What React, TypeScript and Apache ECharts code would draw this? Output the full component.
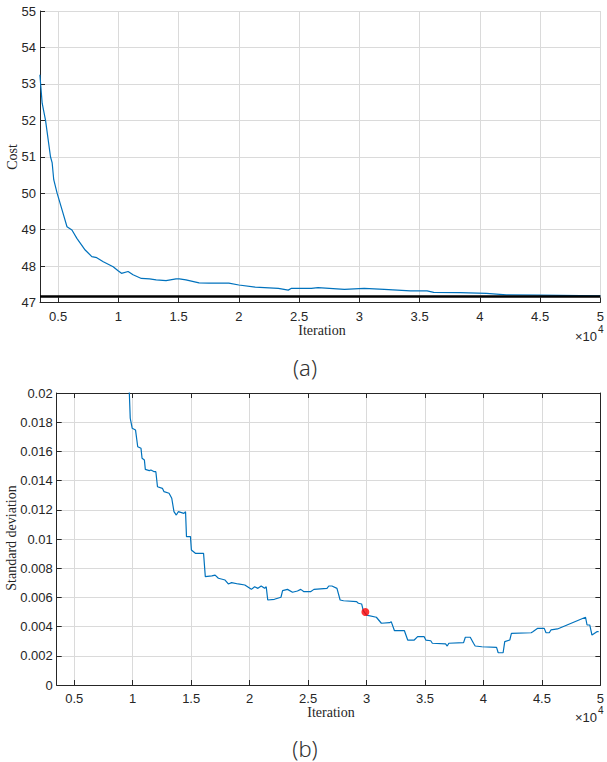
import { useEffect, useRef } from 'react';
import * as echarts from 'echarts';

// ---------- data ----------
const xTickValues = [5000, 10000, 15000, 20000, 25000, 30000, 35000, 40000, 45000, 50000];

const costIter = [3490, 3680, 3960, 4370, 4510, 4640, 4920, 5330, 5740, 6150, 6560, 7250, 7800, 8210, 8750, 9570, 9980, 10260, 10810, 11220, 11910, 12590, 13140, 13960, 14790, 15060, 15610, 16700, 17520, 19170, 20000, 21360, 23280, 24100, 24370, 26020, 26570, 28760, 30400, 32060, 34240, 35620, 36170, 38360, 40550, 42200, 44940, 50000];
const costVal = [53.25, 52.47, 52.0, 51.0, 50.83, 50.37, 50.0, 49.54, 49.08, 48.99, 48.76, 48.44, 48.26, 48.23, 48.12, 47.98, 47.87, 47.80, 47.85, 47.76, 47.66, 47.65, 47.62, 47.60, 47.65, 47.65, 47.62, 47.54, 47.53, 47.53, 47.48, 47.42, 47.39, 47.34, 47.39, 47.39, 47.41, 47.36, 47.39, 47.36, 47.32, 47.32, 47.28, 47.27, 47.25, 47.21, 47.20, 47.18];
const costTarget = 47.17;

const stdIter = [9600, 9790, 9960, 10240, 10430, 10710, 10800, 11000, 11080, 11420, 11560, 11840, 11980, 12120, 12540, 12680, 13110, 13340, 13530, 13730, 13900, 14380, 14520, 14600, 14940, 15020, 15360, 16060, 16210, 16770, 17050, 17330, 17900, 18180, 18460, 19020, 19590, 20150, 20430, 20710, 20990, 21280, 21420, 21550, 22120, 22680, 22820, 23240, 23670, 24090, 24370, 24650, 25210, 25500, 26620, 26770, 27040, 27470, 27740, 28030, 29150, 29300, 29580, 29720, 30000, 30840, 31270, 31970, 32110, 32390, 33240, 33520, 34080, 34370, 34930, 35070, 35490, 35630, 36760, 36900, 37040, 38300, 38450, 38870, 39150, 39290, 39860, 41120, 41260, 41680, 41820, 42250, 42390, 44080, 44220, 44640, 45200, 45350, 45630, 45770, 46330, 48730, 48860, 49090, 49280, 49700, 49850];
const stdVal = [0.0225, 0.01827, 0.01758, 0.01747, 0.01632, 0.01621, 0.01553, 0.01541, 0.01477, 0.01468, 0.01473, 0.01461, 0.01461, 0.01358, 0.01347, 0.01324, 0.01313, 0.01279, 0.01187, 0.01164, 0.01187, 0.01176, 0.01187, 0.01016, 0.01016, 0.00925, 0.00902, 0.00902, 0.00742, 0.00747, 0.00753, 0.00731, 0.00719, 0.00692, 0.00701, 0.00692, 0.00685, 0.00655, 0.00673, 0.00662, 0.00678, 0.00662, 0.00673, 0.00582, 0.00587, 0.00601, 0.00646, 0.00655, 0.00635, 0.00644, 0.00655, 0.00639, 0.00639, 0.00655, 0.00662, 0.00678, 0.00678, 0.00662, 0.00582, 0.00577, 0.00571, 0.0056, 0.00555, 0.00509, 0.00479, 0.00464, 0.00423, 0.00427, 0.00434, 0.00372, 0.00372, 0.00308, 0.00308, 0.00331, 0.00331, 0.00308, 0.00303, 0.00286, 0.00281, 0.00267, 0.00286, 0.0029, 0.00327, 0.00327, 0.00286, 0.00267, 0.00262, 0.00258, 0.00221, 0.00221, 0.00297, 0.00308, 0.00354, 0.00358, 0.00365, 0.00388, 0.00388, 0.00358, 0.00358, 0.00377, 0.00384, 0.00464, 0.00411, 0.00411, 0.00342, 0.00365, 0.00365];

const markerIter = [29900];
const markerVal = [0.005];

// ---------- styles ----------
const AX = '#262626';
const GRID = '#dadada';
const BLUE = '#0072BD';
const SANS = 'Liberation Sans, Arial, sans-serif';
const SERIF = 'Liberation Serif, Times New Roman, serif';

function xAxisCfg(gridIndex: number, position: 'bottom' | 'top', withLabels: boolean) {
  return {
    type: 'value',
    gridIndex,
    position,
    min: 3500,
    max: 50000,
    axisLine: { show: true, onZero: false, lineStyle: { color: AX, width: 1 } },
    axisTick: { show: true, inside: true, length: 5, customValues: xTickValues, lineStyle: { color: AX } },
    axisLabel: {
      show: withLabels,
      customValues: xTickValues,
      formatter: (v: number) => String(v / 10000),
      fontSize: 13,
      color: AX,
      fontFamily: SANS,
      margin: 7,
    },
    splitLine: { show: withLabels, lineStyle: { color: GRID, width: 1 } },
  };
}

function yAxisCfg(gridIndex: number, position: 'left' | 'right', min: number, max: number, interval: number, withLabels: boolean) {
  return {
    type: 'value',
    gridIndex,
    position,
    min,
    max,
    interval,
    axisLine: { show: true, onZero: false, lineStyle: { color: AX, width: 1 } },
    axisTick: { show: true, inside: true, length: 5, lineStyle: { color: AX } },
    axisLabel: { show: withLabels, fontSize: 13, color: AX, fontFamily: SANS, margin: 4 },
    splitLine: { show: withLabels, lineStyle: { color: GRID, width: 1 } },
  };
}

export default function App() {
  const ref = useRef<HTMLDivElement>(null);
  useEffect(() => {
    const chart = echarts.init(ref.current!, null, { renderer: 'svg' });
    const option: any = {
      animation: false,
      backgroundColor: '#ffffff',
      grid: [
        { left: 40, right: 2, top: 11, height: 291.5 },
        { left: 56.7, right: 2, top: 393, height: 292 },
      ],
      xAxis: [
        xAxisCfg(0, 'bottom', true),
        xAxisCfg(1, 'bottom', true),
        xAxisCfg(1, 'top', false),
      ],
      yAxis: [
        yAxisCfg(0, 'left', 47, 55, 1, true),
        yAxisCfg(1, 'left', 0, 0.02, 0.002, true),
        yAxisCfg(1, 'right', 0, 0.02, 0.002, false),
      ],
      series: [
        {
          type: 'line',
          xAxisIndex: 0,
          yAxisIndex: 0,
          data: costIter.map((x, i) => [x, costVal[i]]),
          showSymbol: false,
          symbol: 'none',
          lineStyle: { color: BLUE, width: 1.2 },
          clip: true,
          markLine: {
            silent: true,
            symbol: 'none',
            label: { show: false },
            lineStyle: { color: '#000000', width: 2.5, type: 'solid' },
            data: [{ yAxis: costTarget }],
          },
          z: 3,
        },
        {
          type: 'line',
          xAxisIndex: 1,
          yAxisIndex: 1,
          data: stdIter.map((x, i) => [x, stdVal[i]]),
          showSymbol: false,
          symbol: 'none',
          lineStyle: { color: BLUE, width: 1.2 },
          clip: true,
          z: 3,
        },
        {
          type: 'scatter',
          xAxisIndex: 1,
          yAxisIndex: 1,
          data: markerIter.map((x, i) => [x, markerVal[i]]),
          symbolSize: 8,
          itemStyle: { color: '#ff0000' },
          z: 4,
        },
      ],
      graphic: [
        { type: 'text', x: 12, y: 157, rotation: Math.PI / 2, style: { text: 'Cost', fontSize: 14, fontFamily: SERIF, fill: AX, align: 'center', verticalAlign: 'middle' } },
        { type: 'text', x: 11, y: 538, rotation: Math.PI / 2, style: { text: 'Standard deviation', fontSize: 14, fontFamily: SERIF, fill: AX, align: 'center', verticalAlign: 'middle' } },
        { type: 'text', x: 322, y: 330, style: { text: 'Iteration', fontSize: 14, fontFamily: SERIF, fill: AX, align: 'center', verticalAlign: 'middle' } },
        { type: 'text', x: 331, y: 712, style: { text: 'Iteration', fontSize: 14, fontFamily: SERIF, fill: AX, align: 'center', verticalAlign: 'middle' } },
        { type: 'text', x: 597, y: 336, style: { text: '×10', fontSize: 13, fontFamily: SANS, fill: AX, align: 'right', verticalAlign: 'middle' } },
        { type: 'text', x: 598, y: 329, style: { text: '4', fontSize: 10, fontFamily: SANS, fill: AX, align: 'left', verticalAlign: 'middle' } },
        { type: 'text', x: 597, y: 717, style: { text: '×10', fontSize: 13, fontFamily: SANS, fill: AX, align: 'right', verticalAlign: 'middle' } },
        { type: 'text', x: 598, y: 710, style: { text: '4', fontSize: 10, fontFamily: SANS, fill: AX, align: 'left', verticalAlign: 'middle' } },
        { type: 'text', x: 305, y: 367, style: { text: '(a)', fontSize: 22, fontFamily: 'Noto Sans, sans-serif', fontWeight: 300, fill: '#333333', align: 'center', verticalAlign: 'middle' } },
        { type: 'text', x: 305, y: 748, style: { text: '(b)', fontSize: 22, fontFamily: 'Noto Sans, sans-serif', fontWeight: 300, fill: '#333333', align: 'center', verticalAlign: 'middle' } },
      ],
    };
    chart.setOption(option);
    return () => chart.dispose();
  }, []);
  return (
    <div
      ref={ref}
      style={{ position: 'fixed', left: 0, top: 0, width: 607, height: 762, background: '#ffffff' }}
    />
  );
}
